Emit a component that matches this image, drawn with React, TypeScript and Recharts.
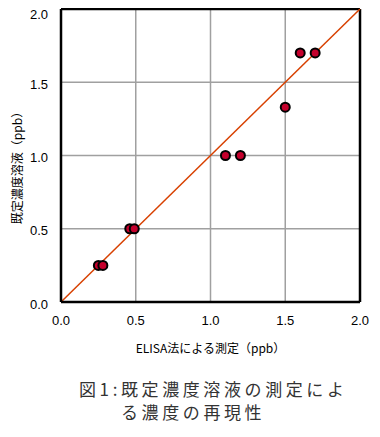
import { CartesianGrid, Label, ReferenceLine, Scatter, ScatterChart, XAxis, YAxis } from "recharts";

const elisaPpb = [0.25, 0.28, 0.46, 0.49, 1.1, 1.2, 1.5, 1.6, 1.7];
const preparedPpb = [0.25, 0.25, 0.5, 0.5, 1.0, 1.0, 1.33, 1.7, 1.7];
const axisTicks = [0, 0.5, 1.0, 1.5, 2.0];

const xTitle = "ELISA法による測定（ppb）";
const yTitle = "既定濃度溶液（ppb）";
const captionLines = ["図1:既定濃度溶液の測定によ", "る濃度の再現性"];

const points = elisaPpb.map((x, i) => ({ x, y: preparedPpb[i] }));

const tickStyle = { fill: "#000", fontSize: 13, fontFamily: "Arial, 'Liberation Sans', sans-serif" };

export default function App() {
  return (
    <div style={{ position: "relative", width: 380, height: 437, margin: -8, background: "#fff" }}>
      <ScatterChart width={380} height={365} margin={{ top: 9, right: 20, bottom: 0, left: 21 }}>
        <CartesianGrid stroke="#a0a0a0" strokeWidth={1.5} />
        <XAxis
          type="number"
          dataKey="x"
          domain={[0, 2]}
          ticks={axisTicks}
          tickFormatter={(v) => Number(v).toFixed(1)}
          tick={tickStyle}
          tickLine={false}
          tickSize={0}
          tickMargin={14}
          height={63}
          axisLine={{ stroke: "#000", strokeWidth: 2.5 }}
        >
          <Label
            value={xTitle}
            position="insideBottom"
            offset={12}
            style={{ fill: "#000", fontSize: 12, fontFamily: "'Noto Sans CJK JP', sans-serif" }}
          />
        </XAxis>
        <YAxis
          type="number"
          dataKey="y"
          domain={[0, 2]}
          ticks={axisTicks}
          tickFormatter={(v) => Number(v).toFixed(1)}
          tick={(p: any) => (
            <text
              x={p.x}
              y={p.y + (p.payload.value === 2 ? 5 : 2)}
              textAnchor="end"
              dominantBaseline="central"
              {...tickStyle}
            >
              {Number(p.payload.value).toFixed(1)}
            </text>
          )}
          tickLine={false}
          tickSize={0}
          tickMargin={13}
          width={40}
          axisLine={{ stroke: "#000", strokeWidth: 2.5 }}
        >
          <Label
            content={() => (
              <text
                x={16}
                y={165}
                transform="rotate(-90 16 165)"
                textAnchor="middle"
                dominantBaseline="central"
                fill="#000"
                fontSize={12}
                fontFamily="'Noto Sans CJK JP', sans-serif"
              >
                {yTitle}
              </text>
            )}
          />
        </YAxis>
        <ReferenceLine x={2} stroke="#000" strokeWidth={2.5} />
        <ReferenceLine y={2} stroke="#000" strokeWidth={2.5} />
        <ReferenceLine
          segment={[
            { x: 0, y: 0 },
            { x: 2, y: 2 },
          ]}
          stroke="#d84000"
          strokeWidth={1.5}
        />
        <Scatter
          data={points}
          isAnimationActive={false}
          shape={(p: any) => <circle cx={p.cx} cy={p.cy} r={4.5} fill="#c4002c" stroke="#000" strokeWidth={2} />}
        />
      </ScatterChart>
      <div
        style={{
          position: "absolute",
          left: 79,
          top: 377,
          fontFamily: "'Noto Sans CJK JP', serif",
          fontSize: 17,
          letterSpacing: 3.6,
          lineHeight: "23px",
          color: "#333",
          whiteSpace: "nowrap",
        }}
      >
        <div>{captionLines[0]}</div>
        <div style={{ paddingLeft: 42 }}>{captionLines[1]}</div>
      </div>
    </div>
  );
}
